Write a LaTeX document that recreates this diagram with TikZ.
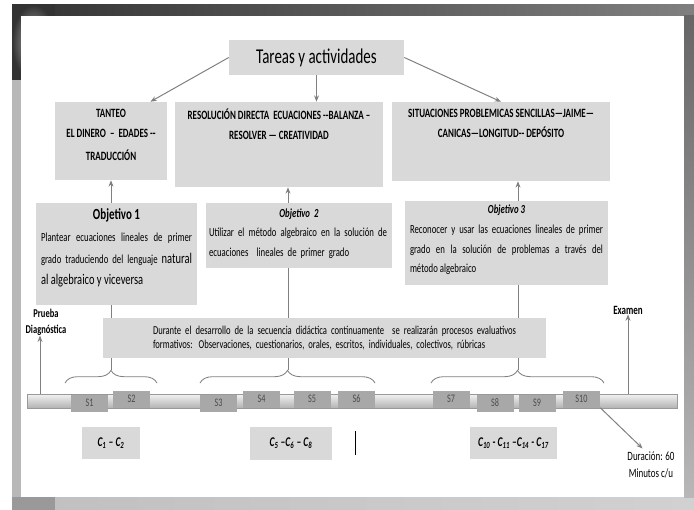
\documentclass[tikz,border=0pt]{standalone}
\usepackage{fontspec}
\setmainfont{Carlito}[FakeStretch=0.71]
\usetikzlibrary{positioning,calc,arrows.meta,decorations.pathreplacing}

\definecolor{boxgray}{HTML}{D9D9D9}
\definecolor{sesgray}{HTML}{A8A8A8}
\definecolor{linegray}{HTML}{808080}

\begin{document}
\begin{tikzpicture}[x=0.025cm,y=-0.025cm,
  sz/.style 2 args={minimum width=#1*0.025cm,minimum height=#2*0.025cm},
  box/.style={fill=boxgray,inner sep=0pt},
  boxtxt/.style={anchor=north,align=center,inner sep=0pt,font=\bfseries\fontsize{9}{14}\selectfont},
  objtxt/.style={anchor=north,align=justify,inner sep=0pt,font=\fontsize{8.75}{14}\selectfont},
  ses/.style={fill=sesgray,inner sep=0pt,sz={37}{17},text=black!70,font=\fontsize{8.2}{8}\selectfont},
  ctxt/.style={box,font=\bfseries\itshape\fontsize{9.5}{9}\selectfont},
  arr/.style={draw=linegray,line width=0.7pt,-{Stealth[length=4.5pt,width=3.5pt]}},
  line/.style={draw=linegray,line width=0.7pt},
  brace/.style={draw=linegray,line width=0.6pt,decorate,decoration={brace,amplitude=9pt}}]
\useasboundingbox (0,0) rectangle (694,510);

% marco de la diapositiva
\fill[white] (0,0) rectangle (694,510);
\shade[left color=black!25,right color=black!18] (12,497) rectangle (694,510);
\fill[black!40] (12,497) rectangle (55,510);
\fill[black!28] (12,80) rectangle (21,497);
\shade[left color=black!80,right color=black!50] (12,5) rectangle (694,16);
\shade[inner color=black!30,outer color=black!80] (12,5) rectangle (55,80);
\shade[top color=black!60,bottom color=black!28] (684,16) rectangle (694,497);
\fill[white] (21,16) rectangle (684,497);

% tareas
\node[box,sz={175}{35},font=\fontsize{15}{15}\selectfont] (tareas) at (316.5,57.5) {Tareas y actividades};

\node[box,sz={112}{78}] (tanteo) at (111,141) {};
\node[box,sz={208}{85}] (res) at (279,144.5) {};
\node[box,sz={218}{79}] (sit) at (501,141.5) {};

\node[boxtxt,below=5pt of tanteo.north] (tanteotxt)
  {TANTEO\\EL DINERO \ – \ EDADES -{}-\\[3pt]TRADUCCIÓN};
\node[boxtxt,below=5pt of res.north] (restxt)
  {RESOLUCIÓN DIRECTA \ ECUACIONES -{}-BALANZA –\\RESOLVER — CREATIVIDAD};
\node[boxtxt,below=5pt of sit.north] (sittxt)
  {SITUACIONES PROBLEMICAS SENCILLAS—JAIME—\\CANICAS—LONGITUD-{}- DEPÓSITO};

\draw[arr] (tareas.west) -- ($(tanteo.north)!0.7!(tanteo.north east)$);
\draw[arr] (tareas.south) -- (tareas.south |- res.north);
\draw[arr] (tareas.east) -- (sit.north);

% objetivos
\node[box,sz={161}{102}] (obj1) at (116.5,254) {};
\node[box,sz={186}{65}] (obj2) at (299,235.5) {};
\node[box,sz={203}{84}] (obj3) at (506.5,243) {};

\node[objtxt,text width=151*0.025cm,font=\fontsize{8.75}{15.5}\selectfont,below=4pt of obj1.north] (obj1txt)
  {{\centering\bfseries\fontsize{11}{12}\selectfont Objetivo 1\par}
   Plantear ecuaciones lineales de primer\linebreak grado traduciendo del lenguaje {\fontsize{10.5}{15.5}\selectfont natural}\linebreak
   {\fontsize{10.5}{15.5}\selectfont al algebraico y viceversa}};
\node[objtxt,text width=180*0.025cm,align=left,below=4pt of obj2.north] (obj2txt)
  {{\centering\bfseries\itshape Objetivo 2\par}
   Utilizar el método algebraico en la solución de\\ecuaciones \ lineales de primer grado};
\node[objtxt,text width=193*0.025cm,below=3pt of obj3.north] (obj3txt)
  {{\centering\bfseries\itshape Objetivo 3\par}
   Reconocer y usar las ecuaciones lineales de primer\linebreak grado en la solución de problemas a través del\linebreak método algebraico};

% llaves
\coordinate (b1) at (111,370);
\coordinate (b2) at (288,370);
\coordinate (b3) at (518,370);
\draw[brace] (65,383) -- (157,383);
\draw[brace] (200,383) -- (375,383);
\draw[brace] (431,383) -- (604,383);

\draw[arr] (obj1.north -| b1) -- (tanteo.south -| b1);
\draw[arr] (obj2.north -| b2) -- (res.south -| b2);
\draw[arr] (obj3.north -| b3) -- (sit.south -| b3);
\draw[line] (obj1.south -| b1) -- (b1);
\draw[line] (obj2.south -| b2) -- (b2);
\draw[line] (obj3.south -| b3) -- (b3);

\node[box,sz={443}{40},text width=443*0.025cm,align=left,font=\fontsize{8.6}{10}\selectfont] (eval) at (324.5,338)
  {\hspace*{1.25cm}Durante el desarrollo de la secuencia didáctica continuamente \ se realizarán procesos evaluativos\\
   \hspace*{1.25cm}formativos: Observaciones, cuestionarios, orales, escritos, individuales, colectivos, rúbricas};

% linea de tiempo
\node[draw=black!40,line width=0.4pt,top color=black!5,bottom color=black!30,sz={650}{14},inner sep=0pt] (bar) at (352,401) {};

\foreach \n/\x/\dy in {1/89.5/2,2/131.5/-2,3/218.5/2,4/261.5/-2,5/312/-2,
                       6/356.5/-2,7/451/-2,8/495/2,9/537/2,10/581.5/-2}
  \node[ses] (s\n) at (\x,401+\dy) {S\n};

\node[font=\bfseries\fontsize{8.5}{11.5}\selectfont,align=center,inner sep=0pt] (prueba) at (46,322) {Prueba\\Diagnóstica};
\node[font=\bfseries\fontsize{9}{9}\selectfont,inner sep=0pt] (examen) at (628,310) {Examen};
\node[font=\fontsize{9}{12.5}\selectfont,align=center,inner sep=0pt] (dur) at (651,465) {Duración: 60\\Minutos c/u};

\draw[arr] (bar.north -| 40,0) -- (prueba.south -| 40,0);
\draw[arr] (bar.north -| examen) -- (examen.south);
\draw[arr] (s10.south east) -- ([xshift=-6pt,yshift=2pt]dur.north);

% contenidos
\node[ctxt,sz={58}{32}] (c1) at (111,443) {C\textsubscript{1} – C\textsubscript{2}};
\node[ctxt,sz={82}{33}] (c2) at (291,443.5) {C\textsubscript{5} –C\textsubscript{6} – C\textsubscript{8}};
\node[ctxt,sz={87}{32}] (c3) at (513.5,443) {C\textsubscript{10} - C\textsubscript{11} –C\textsubscript{14} - C\textsubscript{17}};

\draw[black,line width=0.6pt] (355,431) -- (355,455);
\end{tikzpicture}
\end{document}
